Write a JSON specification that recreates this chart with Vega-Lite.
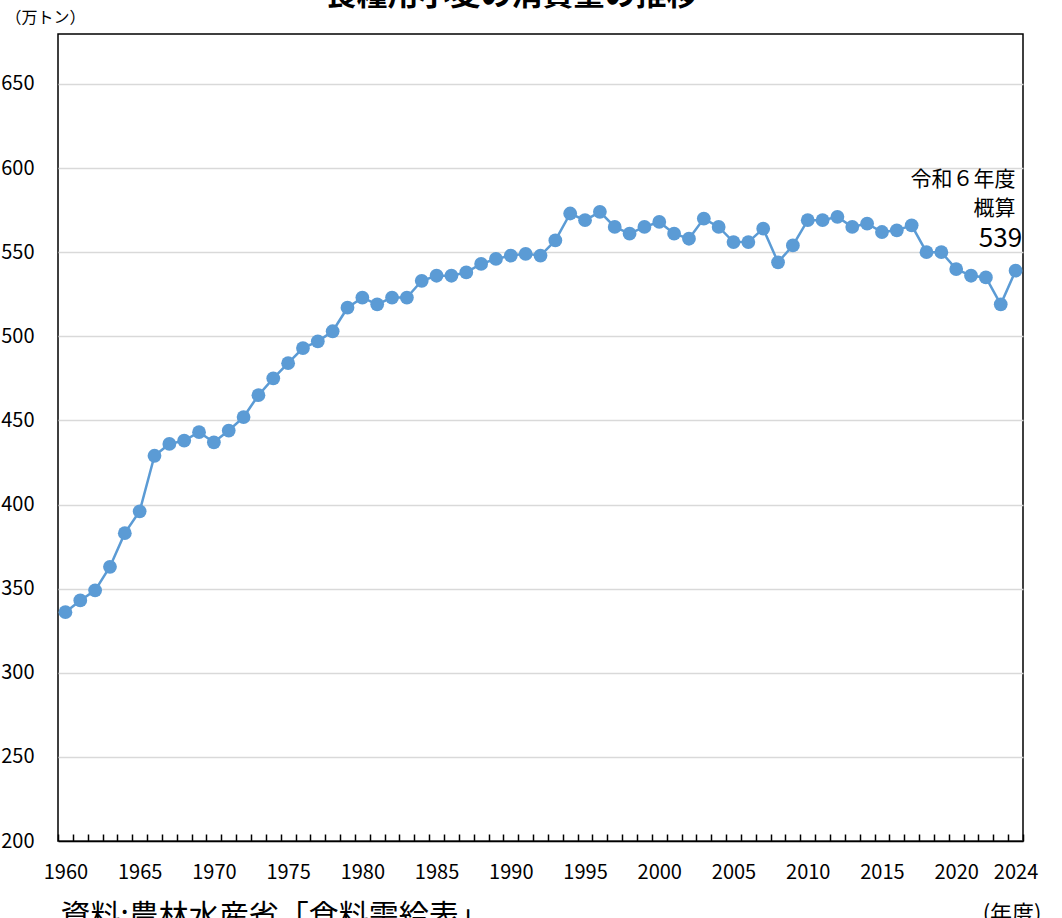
{
  "$schema": "https://vega.github.io/schema/vega-lite/v6.json",
  "width": 965,
  "height": 807,
  "autosize": {"type": "none"},
  "padding": {"left": 58, "top": 34, "right": 39, "bottom": 77},
  "background": "white",
  "config": {
    "view": {"stroke": "black", "strokeWidth": 1.5},
    "font": "Noto Sans CJK JP",
    "axis": {"labelColor": "black", "titleColor": "black", "titleFontWeight": "normal"}
  },
  "title": {
    "text": "食糧用小麦の消費量の推移",
    "fontSize": 31,
    "fontWeight": "bold",
    "anchor": "middle",
    "frame": "group",
    "dx": -29,
    "offset": -27,
    "baseline": "alphabetic",
    "color": "black"
  },
  "data": {
    "values": [
      {"year": 1960, "value": 336}, {"year": 1961, "value": 343}, {"year": 1962, "value": 349},
      {"year": 1963, "value": 363}, {"year": 1964, "value": 383}, {"year": 1965, "value": 396},
      {"year": 1966, "value": 429}, {"year": 1967, "value": 436}, {"year": 1968, "value": 438},
      {"year": 1969, "value": 443}, {"year": 1970, "value": 437}, {"year": 1971, "value": 444},
      {"year": 1972, "value": 452}, {"year": 1973, "value": 465}, {"year": 1974, "value": 475},
      {"year": 1975, "value": 484}, {"year": 1976, "value": 493}, {"year": 1977, "value": 497},
      {"year": 1978, "value": 503}, {"year": 1979, "value": 517}, {"year": 1980, "value": 523},
      {"year": 1981, "value": 519}, {"year": 1982, "value": 523}, {"year": 1983, "value": 523},
      {"year": 1984, "value": 533}, {"year": 1985, "value": 536}, {"year": 1986, "value": 536},
      {"year": 1987, "value": 538}, {"year": 1988, "value": 543}, {"year": 1989, "value": 546},
      {"year": 1990, "value": 548}, {"year": 1991, "value": 549}, {"year": 1992, "value": 548},
      {"year": 1993, "value": 557}, {"year": 1994, "value": 573}, {"year": 1995, "value": 569},
      {"year": 1996, "value": 574}, {"year": 1997, "value": 565}, {"year": 1998, "value": 561},
      {"year": 1999, "value": 565}, {"year": 2000, "value": 568}, {"year": 2001, "value": 561},
      {"year": 2002, "value": 558}, {"year": 2003, "value": 570}, {"year": 2004, "value": 565},
      {"year": 2005, "value": 556}, {"year": 2006, "value": 556}, {"year": 2007, "value": 564},
      {"year": 2008, "value": 544}, {"year": 2009, "value": 554}, {"year": 2010, "value": 569},
      {"year": 2011, "value": 569}, {"year": 2012, "value": 571}, {"year": 2013, "value": 565},
      {"year": 2014, "value": 567}, {"year": 2015, "value": 562}, {"year": 2016, "value": 563},
      {"year": 2017, "value": 566}, {"year": 2018, "value": 550}, {"year": 2019, "value": 550},
      {"year": 2020, "value": 540}, {"year": 2021, "value": 536}, {"year": 2022, "value": 535},
      {"year": 2023, "value": 519}, {"year": 2024, "value": 539}
    ]
  },
  "resolve": {"axis": {"x": "independent", "y": "independent"}},
  "layer": [
    {
      "mark": {"type": "line", "color": "#5b9bd5", "strokeWidth": 2.5},
      "encoding": {
        "x": {
          "field": "year", "type": "quantitative",
          "scale": {"domain": [1959.5, 2024.5], "nice": false, "zero": false},
          "axis": {
            "orient": "bottom",
            "values": [1959.5,1960.5,1961.5,1962.5,1963.5,1964.5,1965.5,1966.5,1967.5,1968.5,1969.5,1970.5,1971.5,1972.5,1973.5,1974.5,1975.5,1976.5,1977.5,1978.5,1979.5,1980.5,1981.5,1982.5,1983.5,1984.5,1985.5,1986.5,1987.5,1988.5,1989.5,1990.5,1991.5,1992.5,1993.5,1994.5,1995.5,1996.5,1997.5,1998.5,1999.5,2000.5,2001.5,2002.5,2003.5,2004.5,2005.5,2006.5,2007.5,2008.5,2009.5,2010.5,2011.5,2012.5,2013.5,2014.5,2015.5,2016.5,2017.5,2018.5,2019.5,2020.5,2021.5,2022.5,2023.5,2024.5],
            "labels": false,
            "grid": false,
            "ticks": true,
            "tickSize": -7,
            "tickColor": "black",
            "tickWidth": 1.5,
            "domain": true,
            "domainColor": "black",
            "domainWidth": 1.5,
            "title": "(年度)",
            "titleFontSize": 22,
            "titleX": 983,
            "titleY": 62,
            "titleAlign": "right",
            "titleAnchor": null,
            "titleBaseline": "top"
          }
        },
        "y": {
          "field": "value", "type": "quantitative",
          "scale": {"domain": [200, 679.7], "nice": false, "zero": false},
          "axis": {
            "orient": "left",
            "values": [200, 250, 300, 350, 400, 450, 500, 550, 600, 650],
            "grid": true,
            "gridColor": "#d9d9d9",
            "gridWidth": 1.5,
            "ticks": false,
            "domain": false,
            "labelFontSize": 20,
            "labelPadding": 24,
            "title": "（万トン）",
            "titleAngle": 0,
            "titleFontSize": 16,
            "titleX": -53,
            "titleY": -17,
            "titleAlign": "left",
            "titleAnchor": null,
            "titleBaseline": "middle"
          }
        }
      }
    },
    {
      "mark": {"type": "point", "filled": true, "opacity": 1, "color": "#5b9bd5", "size": 190, "shape": "circle"},
      "encoding": {
        "x": {
          "field": "year", "type": "quantitative",
          "axis": {
            "orient": "bottom",
            "values": [1960, 1965, 1970, 1975, 1980, 1985, 1990, 1995, 2000, 2005, 2010, 2015, 2020, 2024],
            "format": "d",
            "ticks": false,
            "domain": false,
            "grid": false,
            "labelFontSize": 20,
            "labelPadding": 21,
            "labelOverlap": false,
            "labelFlush": false,
            "labelBound": false,
            "title": "資料:農林水産省「食料需給表」",
            "titleFontSize": 30,
            "titleX": 2,
            "titleY": 60,
            "titleAlign": "left",
            "titleAnchor": null,
            "titleBaseline": "top"
          }
        },
        "y": {"field": "value", "type": "quantitative", "axis": null}
      }
    },
    {
      "transform": [{"filter": "datum.year == 2024"}],
      "mark": {"type": "text", "align": "right", "baseline": "middle", "dx": 6.5, "dy": -32, "fontSize": 26, "color": "black"},
      "encoding": {
        "x": {"field": "year", "type": "quantitative", "axis": null},
        "y": {"field": "value", "type": "quantitative", "axis": null},
        "text": {"field": "value", "type": "quantitative"}
      }
    },
    {
      "transform": [{"filter": "datum.year == 2024"}],
      "mark": {"type": "text", "text": ["令和６年度", "概算"], "align": "right", "baseline": "middle", "dx": 0, "dy": -91, "fontSize": 21, "lineHeight": 29, "color": "black"},
      "encoding": {
        "x": {"field": "year", "type": "quantitative", "axis": null},
        "y": {"field": "value", "type": "quantitative", "axis": null}
      }
    }
  ]
}
